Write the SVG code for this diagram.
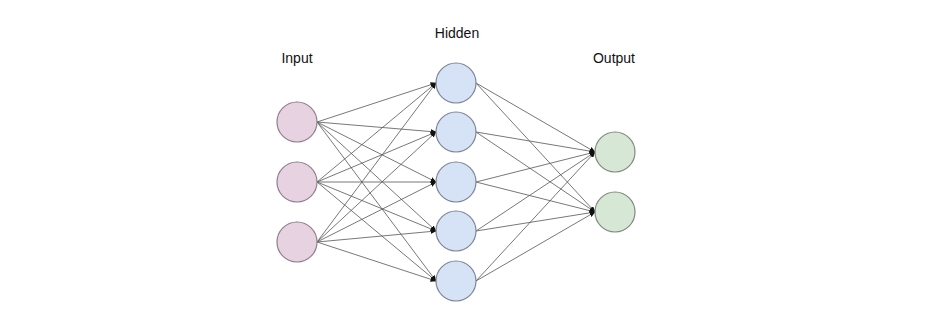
<svg xmlns="http://www.w3.org/2000/svg" width="949" height="324" viewBox="0 0 949 324">
<style>
.lbl{font-family:"Liberation Sans",Arial,sans-serif;font-size:14px;fill:#111;text-anchor:middle}
.e{stroke:#555;stroke-width:0.8;fill:none;marker-end:url(#ah)}
.in{fill:#e6d2e1;stroke:#8f7f8d;stroke-width:1.2}
.hd{fill:#d6e2f5;stroke:#7d8594;stroke-width:1.2}
.out{fill:#d6e8d5;stroke:#7e8a7c;stroke-width:1.2}
</style>
<defs>
<marker id="ah" markerWidth="6" markerHeight="5" refX="5.5" refY="2.5" orient="auto" markerUnits="userSpaceOnUse">
<path d="M0,0 L6,2.5 L0,5 Z" fill="#111"/>
</marker>
</defs>
<rect width="949" height="324" fill="#fff"/>
<g id="connectors">
<path class="e" d="M317,122 L436,83"/><path class="e" d="M317,122 L436,132"/><path class="e" d="M317,122 L436,182"/><path class="e" d="M317,122 L436,231"/><path class="e" d="M317,122 L436,281"/>
<path class="e" d="M317,182 L436,83"/><path class="e" d="M317,182 L436,132"/><path class="e" d="M317,182 L436,182"/><path class="e" d="M317,182 L436,231"/><path class="e" d="M317,182 L436,281"/>
<path class="e" d="M317,242 L436,83"/><path class="e" d="M317,242 L436,132"/><path class="e" d="M317,242 L436,182"/><path class="e" d="M317,242 L436,231"/><path class="e" d="M317,242 L436,281"/>
<path class="e" d="M476,83 L595,152"/><path class="e" d="M476,83 L595,212"/>
<path class="e" d="M476,132 L595,152"/><path class="e" d="M476,132 L595,212"/>
<path class="e" d="M476,182 L595,152"/><path class="e" d="M476,182 L595,212"/>
<path class="e" d="M476,231 L595,152"/><path class="e" d="M476,231 L595,212"/>
<path class="e" d="M476,281 L595,152"/><path class="e" d="M476,281 L595,212"/>
</g>
<g id="label-input"><text class="lbl" x="297" y="63">Input</text></g>
<g id="label-hidden"><text class="lbl" x="457" y="38">Hidden</text></g>
<g id="label-output"><text class="lbl" x="614" y="63">Output</text></g>
<g id="in1"><circle class="in" cx="297" cy="122" r="20"/></g>
<g id="in2"><circle class="in" cx="297" cy="182" r="20"/></g>
<g id="in3"><circle class="in" cx="297" cy="242" r="20"/></g>
<g id="h1"><circle class="hd" cx="456" cy="83" r="20"/></g>
<g id="h2"><circle class="hd" cx="456" cy="132" r="20"/></g>
<g id="h3"><circle class="hd" cx="456" cy="182" r="20"/></g>
<g id="h4"><circle class="hd" cx="456" cy="231" r="20"/></g>
<g id="h5"><circle class="hd" cx="456" cy="281" r="20"/></g>
<g id="o1"><circle class="out" cx="615" cy="152" r="20"/></g>
<g id="o2"><circle class="out" cx="615" cy="212" r="20"/></g>
</svg>
